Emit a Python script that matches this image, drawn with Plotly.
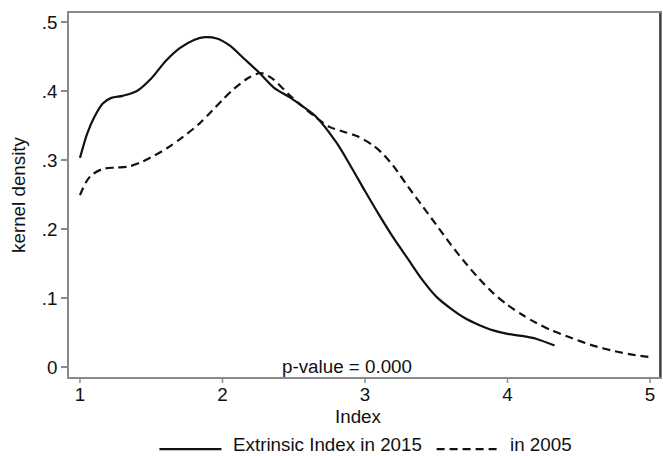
import plotly.graph_objects as go

# ---- data ----
x_2015 = [1.0, 1.05, 1.1, 1.16, 1.22, 1.3, 1.4, 1.5, 1.6, 1.7, 1.8, 1.88, 1.96, 2.05,
          2.15, 2.26, 2.36, 2.47, 2.56, 2.66, 2.8, 2.9, 3.0, 3.1, 3.2, 3.3,
          3.4, 3.5, 3.6, 3.7, 3.8, 3.9, 4.0, 4.1, 4.2, 4.33]
y_2015 = [0.303, 0.338, 0.362, 0.382, 0.390, 0.393, 0.400, 0.418, 0.443, 0.462, 0.474,
          0.478, 0.476, 0.466, 0.447, 0.426, 0.405, 0.391, 0.378, 0.362, 0.325, 0.291,
          0.255, 0.220, 0.187, 0.157, 0.127, 0.102, 0.085, 0.071, 0.061, 0.053, 0.048,
          0.045, 0.041, 0.031]

x_2005 = [1.0, 1.04, 1.08, 1.16, 1.25, 1.33, 1.42, 1.5, 1.61, 1.72, 1.84, 1.93, 2.0,
          2.08, 2.19, 2.27, 2.35, 2.47, 2.56, 2.66, 2.75, 2.85, 2.95, 3.05, 3.12, 3.2,
          3.3, 3.4, 3.5, 3.6, 3.7, 3.8, 3.9, 4.0, 4.1, 4.2, 4.3, 4.45, 4.6, 4.75, 4.9, 5.0]
y_2005 = [0.249, 0.267, 0.278, 0.287, 0.289, 0.290, 0.296, 0.304, 0.317, 0.333, 0.353,
          0.372, 0.387, 0.403, 0.420, 0.426, 0.418, 0.394, 0.378, 0.361, 0.348, 0.341,
          0.334, 0.322, 0.310, 0.291, 0.262, 0.234, 0.206, 0.178, 0.152, 0.128, 0.107,
          0.090, 0.076, 0.064, 0.054, 0.042, 0.031, 0.023, 0.017, 0.0145]

x_ticks = [1, 2, 3, 4, 5]
x_ticklabels = ["1", "2", "3", "4", "5"]
y_ticks = [0, 0.1, 0.2, 0.3, 0.4, 0.5]
y_ticklabels = ["0", ".1", ".2", ".3", ".4", ".5"]

name_2015 = "Extrinsic Index in 2015"
name_2005 = "in 2005"
note = "p-value = 0.000"
x_title = "Index"
y_title = "kernel density"

FONT = "Liberation Sans, Arial, sans-serif"
FS = 18.8
GRAY = "#8a8a8a"
PLOT_H = 456 - 13 - 79

fig = go.Figure()
fig.add_trace(go.Scatter(x=x_2015, y=y_2015, mode="lines", name=name_2015,
                         line=dict(color="#111111", width=2.2, shape="spline", smoothing=0.8)))
fig.add_trace(go.Scatter(x=x_2005, y=y_2005, mode="lines", name=name_2005,
                         line=dict(color="#111111", width=2.2, dash="8px,5px",
                                   shape="spline", smoothing=0.8)))

fig.update_layout(
    width=663, height=456,
    margin=dict(l=69, r=1, t=13, b=79),
    paper_bgcolor="white", plot_bgcolor="white",
    showlegend=False,
    font=dict(family=FONT, size=FS, color="#111111"),
    xaxis=dict(range=[0.923, 5.07], tickvals=x_ticks, ticktext=x_ticklabels,
               showgrid=False, zeroline=False, showline=True, linecolor=GRAY,
               linewidth=1.5, mirror=True, ticks="", tickfont=dict(size=FS)),
    yaxis=dict(range=[-0.0145, 0.513], tickvals=y_ticks, ticktext=y_ticklabels,
               showgrid=False, zeroline=False, showline=True, linecolor=GRAY,
               linewidth=1.5, mirror=True, ticks="outside", ticklen=6, tickwidth=1.5,
               tickcolor=GRAY, tickfont=dict(size=FS),
               title=dict(text=y_title, font=dict(size=FS), standoff=11)),
)

# x tick marks (outside, Stata style)
for tv in x_ticks:
    fig.add_shape(type="line", xref="x", yref="paper", x0=tv, x1=tv,
                  y0=0, y1=-6 / PLOT_H, line=dict(color=GRAY, width=1.5))

# darker right frame edge
fig.add_shape(type="line", xref="paper", yref="paper", x0=1, x1=1, y0=0, y1=1,
              line=dict(color="#222222", width=1.5))

# x-axis title
fig.add_annotation(x=0.49, y=-0.108, xref="paper", yref="paper", text=x_title,
                   showarrow=False, xanchor="center", yanchor="middle", font=dict(size=FS),
                   borderpad=0)

# p-value note
fig.add_annotation(x=2.874, y=0.0, xref="x", yref="y", text=note, showarrow=False,
                   xanchor="center", yanchor="middle", font=dict(size=FS))

# manual legend (Stata style)
ly_line = -0.198
ly_text = -0.186
fig.add_shape(type="line", xref="paper", yref="paper", x0=0.153, x1=0.258,
              y0=ly_line, y1=ly_line, line=dict(color="#111111", width=2.2))
fig.add_annotation(x=0.276, y=ly_text, xref="paper", yref="paper", text=name_2015,
                   showarrow=False, xanchor="left", yanchor="middle", font=dict(size=FS),
                   borderpad=0)
fig.add_shape(type="line", xref="paper", yref="paper", x0=0.622, x1=0.730,
              y0=ly_line, y1=ly_line, line=dict(color="#111111", width=2.2, dash="8px,5px"))
fig.add_annotation(x=0.745, y=ly_text, xref="paper", yref="paper", text=name_2005,
                   showarrow=False, xanchor="left", yanchor="middle", font=dict(size=FS),
                   borderpad=0)

fig.write_html("out.html")
